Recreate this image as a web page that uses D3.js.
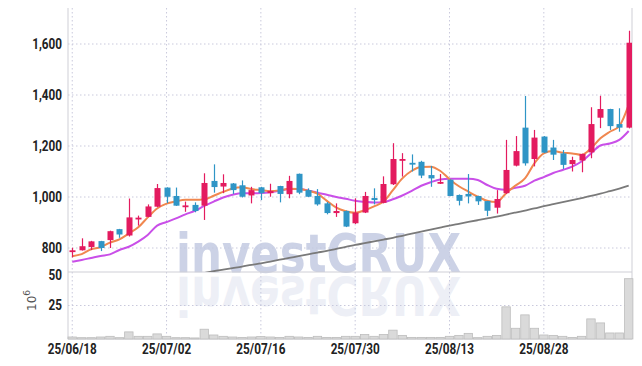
<!DOCTYPE html>
<html><head><meta charset="utf-8">
<script src="https://cdn.jsdelivr.net/npm/d3@7"></script>
<style>html,body{margin:0;padding:0;background:#fff;}svg{display:block;}</style>
</head><body><svg id="c" width="642" height="366"></svg>
<script>
const dates = ["25/06/18","25/06/19","25/06/20","25/06/23","25/06/24","25/06/25","25/06/26","25/06/27","25/06/30",
"25/07/01","25/07/02","25/07/03","25/07/04","25/07/07","25/07/08","25/07/09","25/07/10","25/07/11","25/07/14","25/07/15",
"25/07/16","25/07/17","25/07/18","25/07/21","25/07/22","25/07/23","25/07/24","25/07/25","25/07/28","25/07/29",
"25/07/30","25/07/31","25/08/01","25/08/04","25/08/05","25/08/06","25/08/07","25/08/08","25/08/11","25/08/12",
"25/08/13","25/08/14","25/08/18","25/08/19","25/08/20","25/08/21","25/08/22","25/08/25","25/08/26","25/08/27",
"25/08/28","25/08/29","25/09/01","25/09/02","25/09/03","25/09/04","25/09/05","25/09/08","25/09/09","25/09/10"];
const open  = [788,791,804,827,831,874,849,915,922,962,1037,1004,964,969,966,1063,1041,1053,1046,1006,1038,1015,1043,1011,1091,1027,1004,975,937,945,897,939,996,977,1050,1146,1134,1138,1086,1052,1068,1008,1012,1004,984,958,1015,1123,1272,1149,1237,1194,1171,1129,1143,1175,1311,1345,1286,1272];
const high  = [801,838,828,828,868,875,994,927,971,1051,1038,1037,982,979,1093,1128,1089,1055,1065,1040,1040,1052,1044,1083,1092,1034,1031,980,975,947,995,1020,1034,1081,1211,1172,1167,1142,1122,1090,1069,1010,1090,1005,985,1027,1224,1239,1396,1263,1239,1224,1184,1158,1170,1352,1397,1346,1348,1652];
const low   = [763,790,792,788,800,840,845,888,921,960,976,965,942,940,910,1017,1015,1012,998,975,988,1001,979,995,1011,1000,966,932,922,882,894,937,971,975,1047,1080,1100,1074,1040,1051,1003,967,975,969,925,935,1012,1120,1123,1120,1172,1145,1110,1100,1097,1152,1270,1263,1256,1269];
const close = [791,807,826,800,866,853,920,919,963,1035,1001,966,967,945,1055,1039,1055,1027,1001,1027,1015,1024,1012,1063,1017,1001,971,937,945,884,939,1004,988,1051,1149,1149,1131,1084,1073,1059,1004,985,1002,983,946,992,1106,1180,1132,1233,1174,1166,1126,1145,1169,1286,1345,1278,1272,1605];
const volume = [1.5,1,1,1.5,2,1,5.3,2,2,3.8,2,1,1,0.8,7.3,3,2,1.5,1.2,1.5,1.8,1.5,1.2,2,1.5,1.2,2,1.2,1.2,2,2,3.3,2,3.3,6.6,2.7,1.2,1.2,1.2,1.2,2,2.7,4.2,1,2,2.7,24,8,18,8,3,2.7,2,1.2,2,15,12,4.5,4.5,45];
const maShort = [768,776,795,803,821,834,857,881,920,955,974,983,989,989,991,1005,1020,1033,1038,1031,1027,1023,1026,1032,1031,1025,1013,985,958,944,938,948,963,982,1027,1073,1103,1118,1119,1103,1070,1042,1021,1001,985,980,1015,1045,1073,1132,1171,1180,1174,1171,1165,1191,1230,1256,1278,1361];
const maMid = [746,753,761,769,775,792,805,825,851,888,902,916,932,946,965,982,998,1009,1015,1015,1016,1019,1024,1031,1031,1026,1017,1009,1000,993,985,981,978,980,991,1006,1024,1044,1058,1069,1072,1072,1072,1067,1047,1032,1028,1036,1044,1064,1078,1094,1106,1119,1139,1171,1202,1210,1224,1259];
const maLong = [null,null,null,null,null,null,null,null,null,null,null,null,null,null,702,709,715,721,727,734,740,747,754,761,768,775,782,789,797,804,812,819,826,833,840,848,856,864,872,880,888,895,902,909,916,923,931,939,947,955,964,972,980,988,996,1004,1013,1023,1033,1045];
const priceTicks = [800,1000,1200,1400,1600];
const volTicks = [25,50];
const xTickIdx = [0,10,20,30,40,50];

const svg = d3.select("#c");
const L = 68, R = 632, T = 8, MB = 272, VB = 339;
const x = d3.scaleLinear().domain([-0.45, 59.35]).range([L, R]);
const y = d3.scaleLinear().domain([800, 1600]).range([248, 44]);
const yv = d3.scaleLinear().domain([0, 50]).range([VB, MB]);
const gridC = "#c9c9dc";
const font = "Roboto,'Liberation Sans',sans-serif";

svg.append("defs").append("clipPath").attr("id","mc").append("rect")
  .attr("x",L).attr("y",T).attr("width",R-L).attr("height",MB-T);

// grid
const g = svg.append("g");
priceTicks.forEach(v => g.append("line").attr("x1",L).attr("x2",R).attr("y1",y(v)).attr("y2",y(v))
  .attr("stroke",gridC).attr("stroke-dasharray","1.5,2.5"));
g.append("line").attr("x1",L).attr("x2",R).attr("y1",yv(25)).attr("y2",yv(25))
  .attr("stroke",gridC).attr("stroke-dasharray","1.5,2.5");
xTickIdx.forEach(i => g.append("line").attr("x1",x(i)).attr("x2",x(i)).attr("y1",T).attr("y2",VB)
  .attr("stroke",gridC).attr("stroke-dasharray","1.5,2.5"));

// watermark
const wm = svg.append("g").attr("font-family","'DejaVu Sans',sans-serif").attr("font-weight","bold").attr("font-size",54);
wm.append("text").attr("x",176).attr("y",272).attr("textLength",285).attr("lengthAdjust","spacingAndGlyphs")
  .attr("fill","#c4cbe2").attr("opacity",0.85).text("investCRUX");
wm.append("text").attr("transform","translate(0,549) scale(1,-1)").attr("x",176).attr("y",272)
  .attr("textLength",285).attr("lengthAdjust","spacingAndGlyphs")
  .attr("fill","#c4cbe2").attr("opacity",0.3).text("investCRUX");

// frame
const fr = svg.append("g").attr("stroke","#cfcfd6").attr("stroke-width",1);
fr.append("line").attr("x1",L).attr("x2",L).attr("y1",T).attr("y2",VB);
fr.append("line").attr("x1",R).attr("x2",R).attr("y1",T).attr("y2",VB);
fr.append("line").attr("x1",L).attr("x2",R).attr("y1",MB).attr("y2",MB);
fr.append("line").attr("x1",L).attr("x2",R).attr("y1",VB).attr("y2",VB);

// volume bars
const step = x(1) - x(0);
svg.append("g").selectAll("rect").data(volume).join("rect")
  .attr("x",(d,i)=>x(i)-step/2+0.5).attr("width",step-1)
  .attr("y",d=>yv(d)).attr("height",d=>VB-yv(d))
  .attr("fill","#dadada").attr("stroke","#bdbdbd").attr("stroke-width",0.8);

// MA lines
const mg = svg.append("g").attr("clip-path","url(#mc)");
function ma(arr, color, w){
  const line = d3.line().defined(d=>d!=null).x((d,i)=>x(i)).y(d=>y(d)).curve(d3.curveMonotoneX);
  mg.append("path").datum(arr).attr("d",line).attr("fill","none").attr("stroke",color).attr("stroke-width",w);
}
ma(maLong, "#7a7a7a", 1.8);
ma(maMid, "#c94fe8", 2);
ma(maShort, "#f0874f", 2);

// candles
const up = "#e31b5f", dn = "#2f95c6";
const cg = svg.append("g").attr("clip-path","url(#mc)");
const idx = d3.range(open.length);
cg.selectAll("line.w").data(idx).join("line")
  .attr("x1",i=>Math.round(x(i))+0.5).attr("x2",i=>Math.round(x(i))+0.5)
  .attr("y1",i=>y(high[i])).attr("y2",i=>y(low[i]))
  .attr("stroke",i=>close[i]>=open[i]?up:dn).attr("stroke-width",1.2);
cg.selectAll("rect").data(idx).join("rect")
  .attr("x",i=>Math.round(x(i))+0.5-3).attr("width",6)
  .attr("y",i=>y(Math.max(open[i],close[i])))
  .attr("height",i=>Math.max(1.8, Math.abs(y(open[i])-y(close[i]))))
  .attr("fill",i=>close[i]>=open[i]?up:dn);

// axes labels (condensed look via horizontal scale)
const ax = svg.append("g").attr("font-family",font).attr("font-weight","bold").attr("font-size",14).attr("fill","#222");
function lab(px, py, txt, anchor){
  ax.append("g").attr("transform",`translate(${px},${py}) scale(0.84,1)`)
    .append("text").attr("dy","0.35em").attr("text-anchor",anchor).text(txt);
}
priceTicks.forEach(v => lab(62, y(v), d3.format(",")(v), "end"));
volTicks.forEach(v => lab(62, yv(v)+(v===50?3:0), String(v), "end"));
xTickIdx.forEach(i => lab(x(i), 349, dates[i], "middle"));

// 10^6 label
const ul = svg.append("text").attr("transform","translate(36,311) rotate(-90)")
  .attr("font-family","'DejaVu Sans',sans-serif").attr("font-size",12).attr("fill","#555");
ul.append("tspan").text("10");
ul.append("tspan").attr("dy",-6).attr("font-size",9).text("6");
</script></body></html>
